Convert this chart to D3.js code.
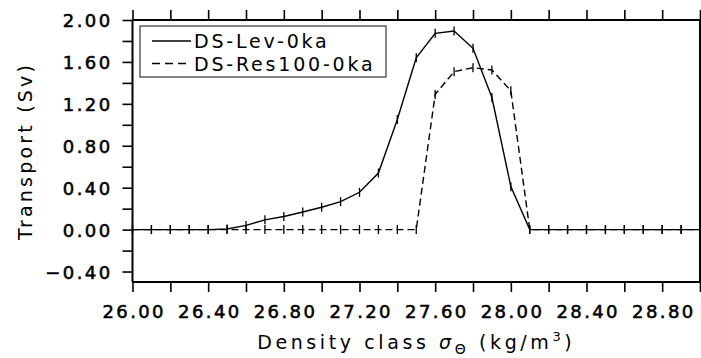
<!DOCTYPE html>
<html>
<head>
<meta charset="utf-8">
<script src="https://cdn.jsdelivr.net/npm/d3@7"></script>
<style>
    body { margin: 0; background: #fff; }
    #chart { width: 701px; height: 358px; }
    text { font-family: "DejaVu Sans", sans-serif; fill: #000; }
</style>
</head>
<body>
<div id="chart"></div>
<script>
var density = [26.0, 26.1, 26.2, 26.3, 26.4, 26.5, 26.6, 26.7, 26.8, 26.9,
               27.0, 27.1, 27.2, 27.3, 27.4, 27.5, 27.6, 27.7, 27.8, 27.9,
               28.0, 28.1, 28.2, 28.3, 28.4, 28.5, 28.6, 28.7, 28.8, 28.9, 29.0];
var levTransport = [0, 0, 0, 0, 0, 0.006, 0.04, 0.093, 0.125, 0.168,
                    0.213, 0.267, 0.356, 0.54, 1.05, 1.64, 1.873, 1.895, 1.73, 1.26,
                    0.41, 0, 0, 0, 0, 0, 0, 0, 0, 0, 0];
var resTransport = [0, 0, 0, 0, 0, 0, 0, 0, 0, 0,
                    0, 0, 0, 0, 0, 0, 1.29, 1.507, 1.545, 1.523,
                    1.325, 0, 0, 0, 0, 0, 0, 0, 0, 0, 0];
var seriesNames = ["DS-Lev-0ka", "DS-Res100-0ka"];

var xTickValues = [26.0, 26.4, 26.8, 27.2, 27.6, 28.0, 28.4, 28.8];
var xMinorTicks = [26.0, 26.2, 26.4, 26.6, 26.8, 27.0, 27.2, 27.4, 27.6, 27.8, 28.0, 28.2, 28.4, 28.6, 28.8, 29.0];
var yTickValues = [-0.4, 0.0, 0.4, 0.8, 1.2, 1.6, 2.0];
var yMinorTicks = [-0.4, -0.2, 0.0, 0.2, 0.4, 0.6, 0.8, 1.0, 1.2, 1.4, 1.6, 1.8, 2.0];

var margin = {top: 20, right: 1, bottom: 76, left: 132.5};
var width = 701 - margin.left - margin.right;
var height = 358 - margin.top - margin.bottom;

var svg = d3.select("#chart")
    .append("svg")
    .attr("width", 701)
    .attr("height", 358);

var g = svg.append("g")
    .attr("transform", "translate(" + margin.left + "," + margin.top + ")");

var xScale = d3.scaleLinear().domain([26, 29]).range([0, width]);
var yScale = d3.scaleLinear().domain([-0.5, 2.0]).range([height, 0]);

var fmt = d3.format(".2f");

// data lines
var data = density.map(function(d, i) {
    return {x: d, lev: levTransport[i], res: resTransport[i]};
});

var levLine = d3.line()
    .x(function(d) { return xScale(d.x); })
    .y(function(d) { return yScale(d.lev); });
var resLine = d3.line()
    .x(function(d) { return xScale(d.x); })
    .y(function(d) { return yScale(d.res); });

g.append("path")
    .datum(data)
    .attr("fill", "none")
    .attr("stroke", "#000")
    .attr("stroke-width", 1.4)
    .attr("stroke-dasharray", "7,4")
    .attr("d", resLine);

g.append("path")
    .datum(data)
    .attr("fill", "none")
    .attr("stroke", "#000")
    .attr("stroke-width", 1.4)
    .attr("d", levLine);

// point markers (short vertical bars)
["lev", "res"].forEach(function(key) {
    g.selectAll(".mark-" + key)
        .data(data)
        .enter().append("line")
        .attr("class", "mark-" + key)
        .attr("x1", function(d) { return xScale(d.x); })
        .attr("x2", function(d) { return xScale(d.x); })
        .attr("y1", function(d) { return yScale(d[key]) - 4.5; })
        .attr("y2", function(d) { return yScale(d[key]) + 4.5; })
        .attr("stroke", "#000")
        .attr("stroke-width", 1.3);
});

// axes
var axisBottom = d3.axisBottom(xScale).tickValues(xMinorTicks).tickSize(10)
    .tickFormat(function(d) { return xTickValues.some(function(v) { return Math.abs(v - d) < 1e-6; }) ? fmt(d) : ""; });
var axisTop = d3.axisTop(xScale).tickValues(xMinorTicks).tickSize(10).tickFormat("");
var axisLeft = d3.axisLeft(yScale).tickValues(yMinorTicks).tickSize(10)
    .tickFormat(function(d) { return yTickValues.some(function(v) { return Math.abs(v - d) < 1e-6; }) ? fmt(d) : ""; });
var axisRight = d3.axisRight(yScale).tickValues(yMinorTicks).tickSize(10).tickFormat("");

var gx = g.append("g").attr("transform", "translate(0," + height + ")").call(axisBottom);
var gxt = g.append("g").call(axisTop);
var gy = g.append("g").call(axisLeft);
var gyr = g.append("g").attr("transform", "translate(" + width + ",0)").call(axisRight);

[gx, gxt, gy, gyr].forEach(function(a) {
    a.select(".domain").attr("stroke", "#000").attr("stroke-width", 2);
    a.selectAll(".tick line").attr("stroke", "#000").attr("stroke-width", 1.6);
    a.selectAll("text")
        .style("font-family", "DejaVu Sans")
        .style("font-size", "18px")
        .style("letter-spacing", "2.4px")
        .attr("fill", "#000")
        .attr("stroke", "#000")
        .attr("stroke-width", 0.55);
});
gx.selectAll(".domain").attr("d", "M0,0H" + width);
gxt.selectAll(".domain").attr("d", "M0,0H" + width);
gy.selectAll(".domain").attr("d", "M0," + height + "V0");
gyr.selectAll(".domain").attr("d", "M0," + height + "V0");
gx.selectAll(".tick text").attr("y", 23).attr("dy", "0.71em").attr("dx", "1.2px");
gy.selectAll(".tick text").attr("x", -20).attr("dy", "0.36em");

// axis titles
svg.append("text")
    .attr("transform", "translate(32," + (margin.top + height / 2) + ") rotate(-90)")
    .style("text-anchor", "middle")
    .style("font-size", "19px")
    .style("letter-spacing", "3.2px")
    .text("Transport (Sv)");

var xTitle = svg.append("text")
    .attr("x", margin.left + width / 2)
    .attr("y", 349)
    .style("text-anchor", "middle")
    .style("font-size", "19px")
    .style("letter-spacing", "3.6px");
xTitle.append("tspan").text("Density class ");
xTitle.append("tspan").style("font-style", "italic").text("σ");
xTitle.append("tspan").attr("dy", 5).style("font-size", "14px").text("Θ");
xTitle.append("tspan").attr("dy", -5).text(" (kg/m");
xTitle.append("tspan").attr("dy", -8).style("font-size", "13px").text("3");
xTitle.append("tspan").attr("dy", 8).text(")");

// legend
var legend = svg.append("g");
legend.append("rect")
    .attr("x", 140)
    .attr("y", 26)
    .attr("width", 246)
    .attr("height", 51)
    .attr("fill", "#fff")
    .attr("stroke", "#444")
    .attr("stroke-width", 1.3);

seriesNames.forEach(function(name, i) {
    var cy = 41 + i * 22.5;
    legend.append("line")
        .attr("x1", 152)
        .attr("x2", 191)
        .attr("y1", cy)
        .attr("y2", cy)
        .attr("stroke", "#000")
        .attr("stroke-width", 1.4)
        .attr("stroke-dasharray", i === 1 ? "8,5" : null);
    legend.append("text")
        .attr("x", 194)
        .attr("y", cy + 7)
        .style("font-size", "19px")
        .style("letter-spacing", "2.8px")
        .text(name);
});
</script>
</body>
</html>
